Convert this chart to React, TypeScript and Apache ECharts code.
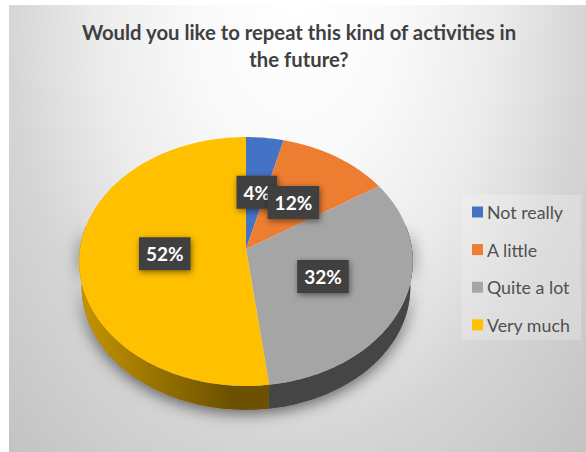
import React, { useEffect, useRef } from "react";
import * as echarts from "echarts";

const categories = ["Not really", "A little", "Quite a lot", "Very much"];
const percentages = [4, 12, 32, 52];
const colors = ["#4472C4", "#ED7D31", "#A5A5A5", "#FFC000"];
const titleText = "Would you like to repeat this kind of activities in\nthe future?";

const WIDTH = 586;
const HEIGHT = 452;

// Tilted disc: apex of the slices, radii and perspective strength.
const APEX_X = 246;
const APEX_Y = 249;
const RADIUS_X = 166;
const RADIUS_Y = 123.2;
const PERSPECTIVE = -0.1004;
const DEPTH = 26;
const BASE_SCALE = 0.985;
const LABEL_RADIUS = 0.495;

// Backdrop glow is stretched vertically around the top of the frame.
const GLOW_STRETCH = 1.5;

const FONT = "Lato, Carlito, Calibri, sans-serif";

const project = (pct: number, r = 1, drop = 0, scale = 1): number[] => {
  const a = (pct / 100) * 2 * Math.PI;
  const u = Math.sin(a) * r;
  const v = -Math.cos(a) * r;
  const w = 1 + PERSPECTIVE * v;
  return [
    APEX_X + (scale * RADIUS_X * u) / w,
    APEX_Y + (scale * RADIUS_Y * v) / w + drop,
  ];
};

const arcPoints = (from: number, to: number, drop = 0, scale = 1): number[][] => {
  const pts: number[][] = [];
  const steps = Math.max(2, Math.ceil((to - from) * 3));
  for (let i = 0; i <= steps; i++) {
    pts.push(project(from + ((to - from) * i) / steps, 1, drop, scale));
  }
  return pts;
};

const shade = (hex: string, k: number): string => {
  const n = parseInt(hex.slice(1), 16);
  const c = [(n >> 16) & 255, (n >> 8) & 255, n & 255].map((x) => Math.round(x * k));
  return `rgb(${c[0]},${c[1]},${c[2]})`;
};

// The rim wall is only visible along the near half of the disc.
const WALL_FROM = 22;
const WALL_TO = 78;

const renderSlice = (color: string) => (_: any, api: any) => {
  const from = api.value(0);
  const to = api.value(1);
  const children: any[] = [];
  const wallFrom = Math.max(from, WALL_FROM);
  const wallTo = Math.min(to, WALL_TO);
  if (wallTo > wallFrom) {
    children.push({
      type: "polygon",
      shape: {
        points: [
          ...arcPoints(wallFrom, wallTo),
          ...arcPoints(wallFrom, wallTo, DEPTH, BASE_SCALE).reverse(),
        ],
      },
      style: {
        fill: new echarts.graphic.LinearGradient(
          82, 0, 232, 0,
          [
            { offset: 0, color: shade(color, 0.77) },
            { offset: 1, color: shade(color, 0.42) },
          ],
          true
        ),
      },
    });
  }
  children.push({
    type: "polygon",
    shape: { points: [[APEX_X, APEX_Y], ...arcPoints(from, to)] },
    style: { fill: color },
  });
  return { type: "group", children };
};

const renderDiscShadow = () => ({
  type: "polygon",
  shape: {
    points: [...arcPoints(22, 78), ...arcPoints(22, 78, DEPTH, BASE_SCALE).reverse()],
  },
  style: {
    fill: "#777",
    shadowBlur: 16,
    shadowColor: "rgba(0,0,0,0.6)",
    shadowOffsetY: 3,
  },
});

const renderLabel = (_: any, api: any) => {
  const [x, y] = project(api.value(0), LABEL_RADIUS);
  return {
    type: "text",
    x: x + 1,
    y: y + 1,
    style: {
      text: `${api.value(1)}%`,
      fill: "#ffffff",
      font: `bold 19px ${FONT}`,
      align: "center",
      verticalAlign: "middle",
      backgroundColor: "#404040",
      padding: [7, 7, 7, 7],
      shadowBlur: 6,
      shadowColor: "rgba(0,0,0,0.5)",
      shadowOffsetX: 1,
      shadowOffsetY: 2,
    },
  };
};

export default function App() {
  const ref = useRef<HTMLDivElement>(null);

  useEffect(() => {
    const chart = echarts.init(ref.current!, undefined, { renderer: "svg" });
    let running = 0;
    const spans = percentages.map((p) => {
      const span = [running, running + p];
      running += p;
      return span;
    });

    chart.setOption({
      animation: false,
      backgroundColor: "#ffffff",
      title: {
        text: titleText,
        left: 294,
        top: 13,
        textAlign: "center",
        textStyle: {
          color: "#404040",
          fontFamily: FONT,
          fontWeight: "bold",
          fontSize: 20.3,
          lineHeight: 27,
        },
      },
      legend: {
        data: categories,
        orient: "vertical",
        left: 472,
        top: 203,
        padding: 0,
        itemWidth: 11,
        itemHeight: 11,
        itemGap: 19.6,
        icon: "rect",
        textStyle: {
          color: "#505050",
          fontFamily: FONT,
          fontSize: 17.8,
          padding: [0, 0, 0, -1],
        },
        selectedMode: false,
      },
      graphic: [
        {
          type: "rect",
          z: -2,
          scaleY: GLOW_STRETCH,
          shape: {
            x: 9,
            y: 5 / GLOW_STRETCH,
            width: WIDTH,
            height: HEIGHT / GLOW_STRETCH,
          },
          style: {
            fill: new echarts.graphic.RadialGradient(
              297, 8 / GLOW_STRETCH, 420,
              [
                { offset: 0, color: "#ffffff" },
                { offset: 0.25, color: "#f9f9f9" },
                { offset: 0.48, color: "#ebebeb" },
                { offset: 0.69, color: "#d5d5d5" },
                { offset: 1, color: "#c2c2c2" },
              ],
              true
            ),
          },
        },
        {
          type: "rect",
          z: -1,
          shape: { x: 462, y: 195, width: 119, height: 145 },
          style: { fill: "rgba(255,255,255,0.22)" },
        },
      ],
      series: [
        {
          type: "custom",
          name: "shadow",
          coordinateSystem: "none",
          silent: true,
          z: 1,
          data: [[0, 100]],
          renderItem: renderDiscShadow,
        },
        ...categories.map((name, i) => ({
          type: "custom",
          name,
          coordinateSystem: "none",
          silent: true,
          z: 2,
          itemStyle: { color: colors[i] },
          data: [spans[i]],
          renderItem: renderSlice(colors[i]),
        })),
        {
          type: "custom",
          name: "labels",
          coordinateSystem: "none",
          silent: true,
          z: 3,
          data: percentages.map((p, i) => [(spans[i][0] + spans[i][1]) / 2, p]),
          renderItem: renderLabel,
        },
      ],
    });

    return () => chart.dispose();
  }, []);

  return (
    <div
      ref={ref}
      style={{ position: "fixed", left: 0, top: 0, width: WIDTH, height: HEIGHT }}
    />
  );
}
